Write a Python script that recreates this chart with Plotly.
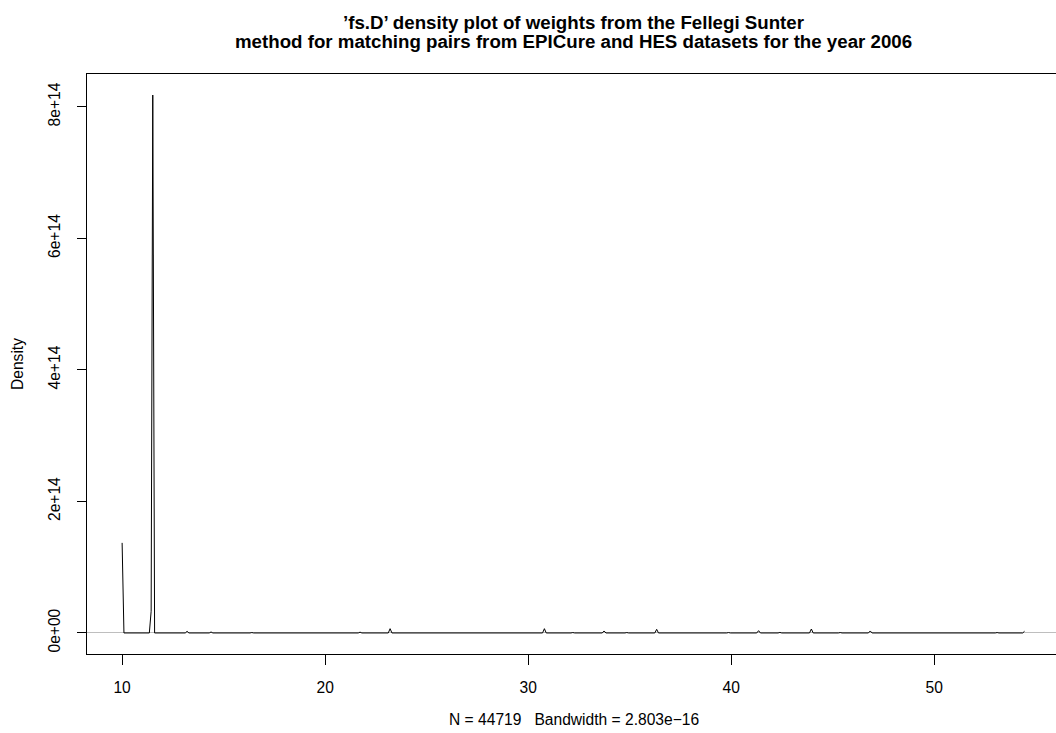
import numpy as np
import plotly.graph_objects as go

# Kernel density estimate of Fellegi-Sunter match weights (density in units of 1e14)
weight = [
    10.00, 10.09, 11.34, 11.43, 11.51, 11.60,
    13.11, 13.20, 13.29,
    14.29, 14.38, 14.47,
    16.30, 16.39, 16.48,
    19.00, 19.09, 19.18,
    20.71, 20.80, 20.89,
    21.63, 21.72, 21.81,
    23.11, 23.20, 23.29,
    24.61, 24.70, 24.79,
    26.21, 26.30, 26.39,
    28.11, 28.20, 28.29,
    29.21, 29.30, 29.39,
    30.71, 30.80, 30.89,
    32.11, 32.20, 32.29,
    33.65, 33.74, 33.83,
    34.77, 34.86, 34.95,
    36.24, 36.33, 36.42,
    39.78, 39.87, 39.96,
    41.26, 41.35, 41.44,
    42.31, 42.40, 42.49,
    43.86, 43.95, 44.04,
    45.28, 45.37, 45.46,
    46.76, 46.85, 46.94,
    53.01, 53.10, 53.19,
    54.36, 54.45,
]
density_e14 = [
    1.37, 0.0, 0.0, 0.33, 8.18, 0.0,
    0.0, 0.025, 0.0,
    0.0, 0.015, 0.0,
    0.0, 0.006, 0.0,
    0.0, 0.006, 0.0,
    0.0, 0.006, 0.0,
    0.0, 0.012, 0.0,
    0.0, 0.065, 0.0,
    0.0, 0.006, 0.0,
    0.0, 0.006, 0.0,
    0.0, 0.006, 0.0,
    0.0, 0.008, 0.0,
    0.0, 0.065, 0.0,
    0.0, 0.006, 0.0,
    0.0, 0.030, 0.0,
    0.0, 0.006, 0.0,
    0.0, 0.055, 0.0,
    0.0, 0.006, 0.0,
    0.0, 0.035, 0.0,
    0.0, 0.008, 0.0,
    0.0, 0.060, 0.0,
    0.0, 0.006, 0.0,
    0.0, 0.030, 0.0,
    0.0, 0.006, 0.0,
    0.0, 0.025,
]

x_ticks = [10, 20, 30, 40, 50]
y_ticks_e14 = [0, 2, 4, 6, 8]
y_tick_labels = ["0e+00", "2e+14", "4e+14", "6e+14", "8e+14"]

title_lines = [
    "’fs.D’ density plot of weights from the Fellegi Sunter",
    "method for matching pairs from EPICure and HES datasets for the year 2006",
]
x_label = "N = 44719   Bandwidth = 2.803e−16"
y_label = "Density"

density = np.array(density_e14) * 1e14

W, H = 1056, 733
ML, MR, MT, MB = 87, 0, 74, 79
PW, PH = W - ML - MR, H - MT - MB
FONT = "Liberation Sans, Arial, Helvetica, sans-serif"


def px_x(p):
    return (p - ML) / PW


def px_y(p):
    return (H - MB - p) / PH


fig = go.Figure()
fig.add_trace(go.Scatter(
    x=weight, y=density, mode="lines",
    line=dict(color="black", width=1),
    hoverinfo="skip", showlegend=False,
))

annotations = []
for line, ypix in zip(title_lines, [22, 42]):
    annotations.append(dict(
        text=f"<b>{line}</b>", xref="paper", yref="paper",
        x=px_x(573.5), y=px_y(ypix), xanchor="center", yanchor="middle",
        showarrow=False, font=dict(family=FONT, size=18.7, color="black"),
    ))
annotations.append(dict(
    text=x_label, xref="paper", yref="paper",
    x=px_x(573.5), y=px_y(719), xanchor="center", yanchor="middle",
    showarrow=False, font=dict(family=FONT, size=15.6, color="black"),
))
annotations.append(dict(
    text=y_label, xref="paper", yref="paper",
    x=px_x(17), y=px_y(364), xanchor="center", yanchor="middle",
    textangle=-90, showarrow=False,
    font=dict(family=FONT, size=15.6, color="black"),
))

fig.update_layout(
    width=W, height=H,
    margin=dict(l=ML, r=MR, t=MT, b=MB, pad=0),
    paper_bgcolor="white", plot_bgcolor="white",
    font=dict(family=FONT, size=15.6, color="black"),
    annotations=annotations,
    xaxis=dict(
        range=[8.27, 56.0], tickvals=x_ticks, ticks="outside", ticklen=9.5,
        tickwidth=1, tickcolor="black", showgrid=False, zeroline=False,
        showline=True, linecolor="black", linewidth=1, mirror=True,
        tickfont=dict(family=FONT, size=15.6, color="black"),
        ticklabelstandoff=10,
    ),
    yaxis=dict(
        range=[-0.32e14, 8.50e14],
        tickvals=[v * 1e14 for v in y_ticks_e14], ticktext=y_tick_labels,
        ticks="outside", ticklen=9.5, tickwidth=1, tickcolor="black",
        tickangle=-90, showgrid=False,
        zeroline=True, zerolinecolor="#BEBEBE", zerolinewidth=1,
        showline=True, linecolor="black", linewidth=1, mirror=False,
        tickfont=dict(family=FONT, size=15.6, color="black"),
        ticklabelstandoff=10,
    ),
)

fig.write_html("out.html")
